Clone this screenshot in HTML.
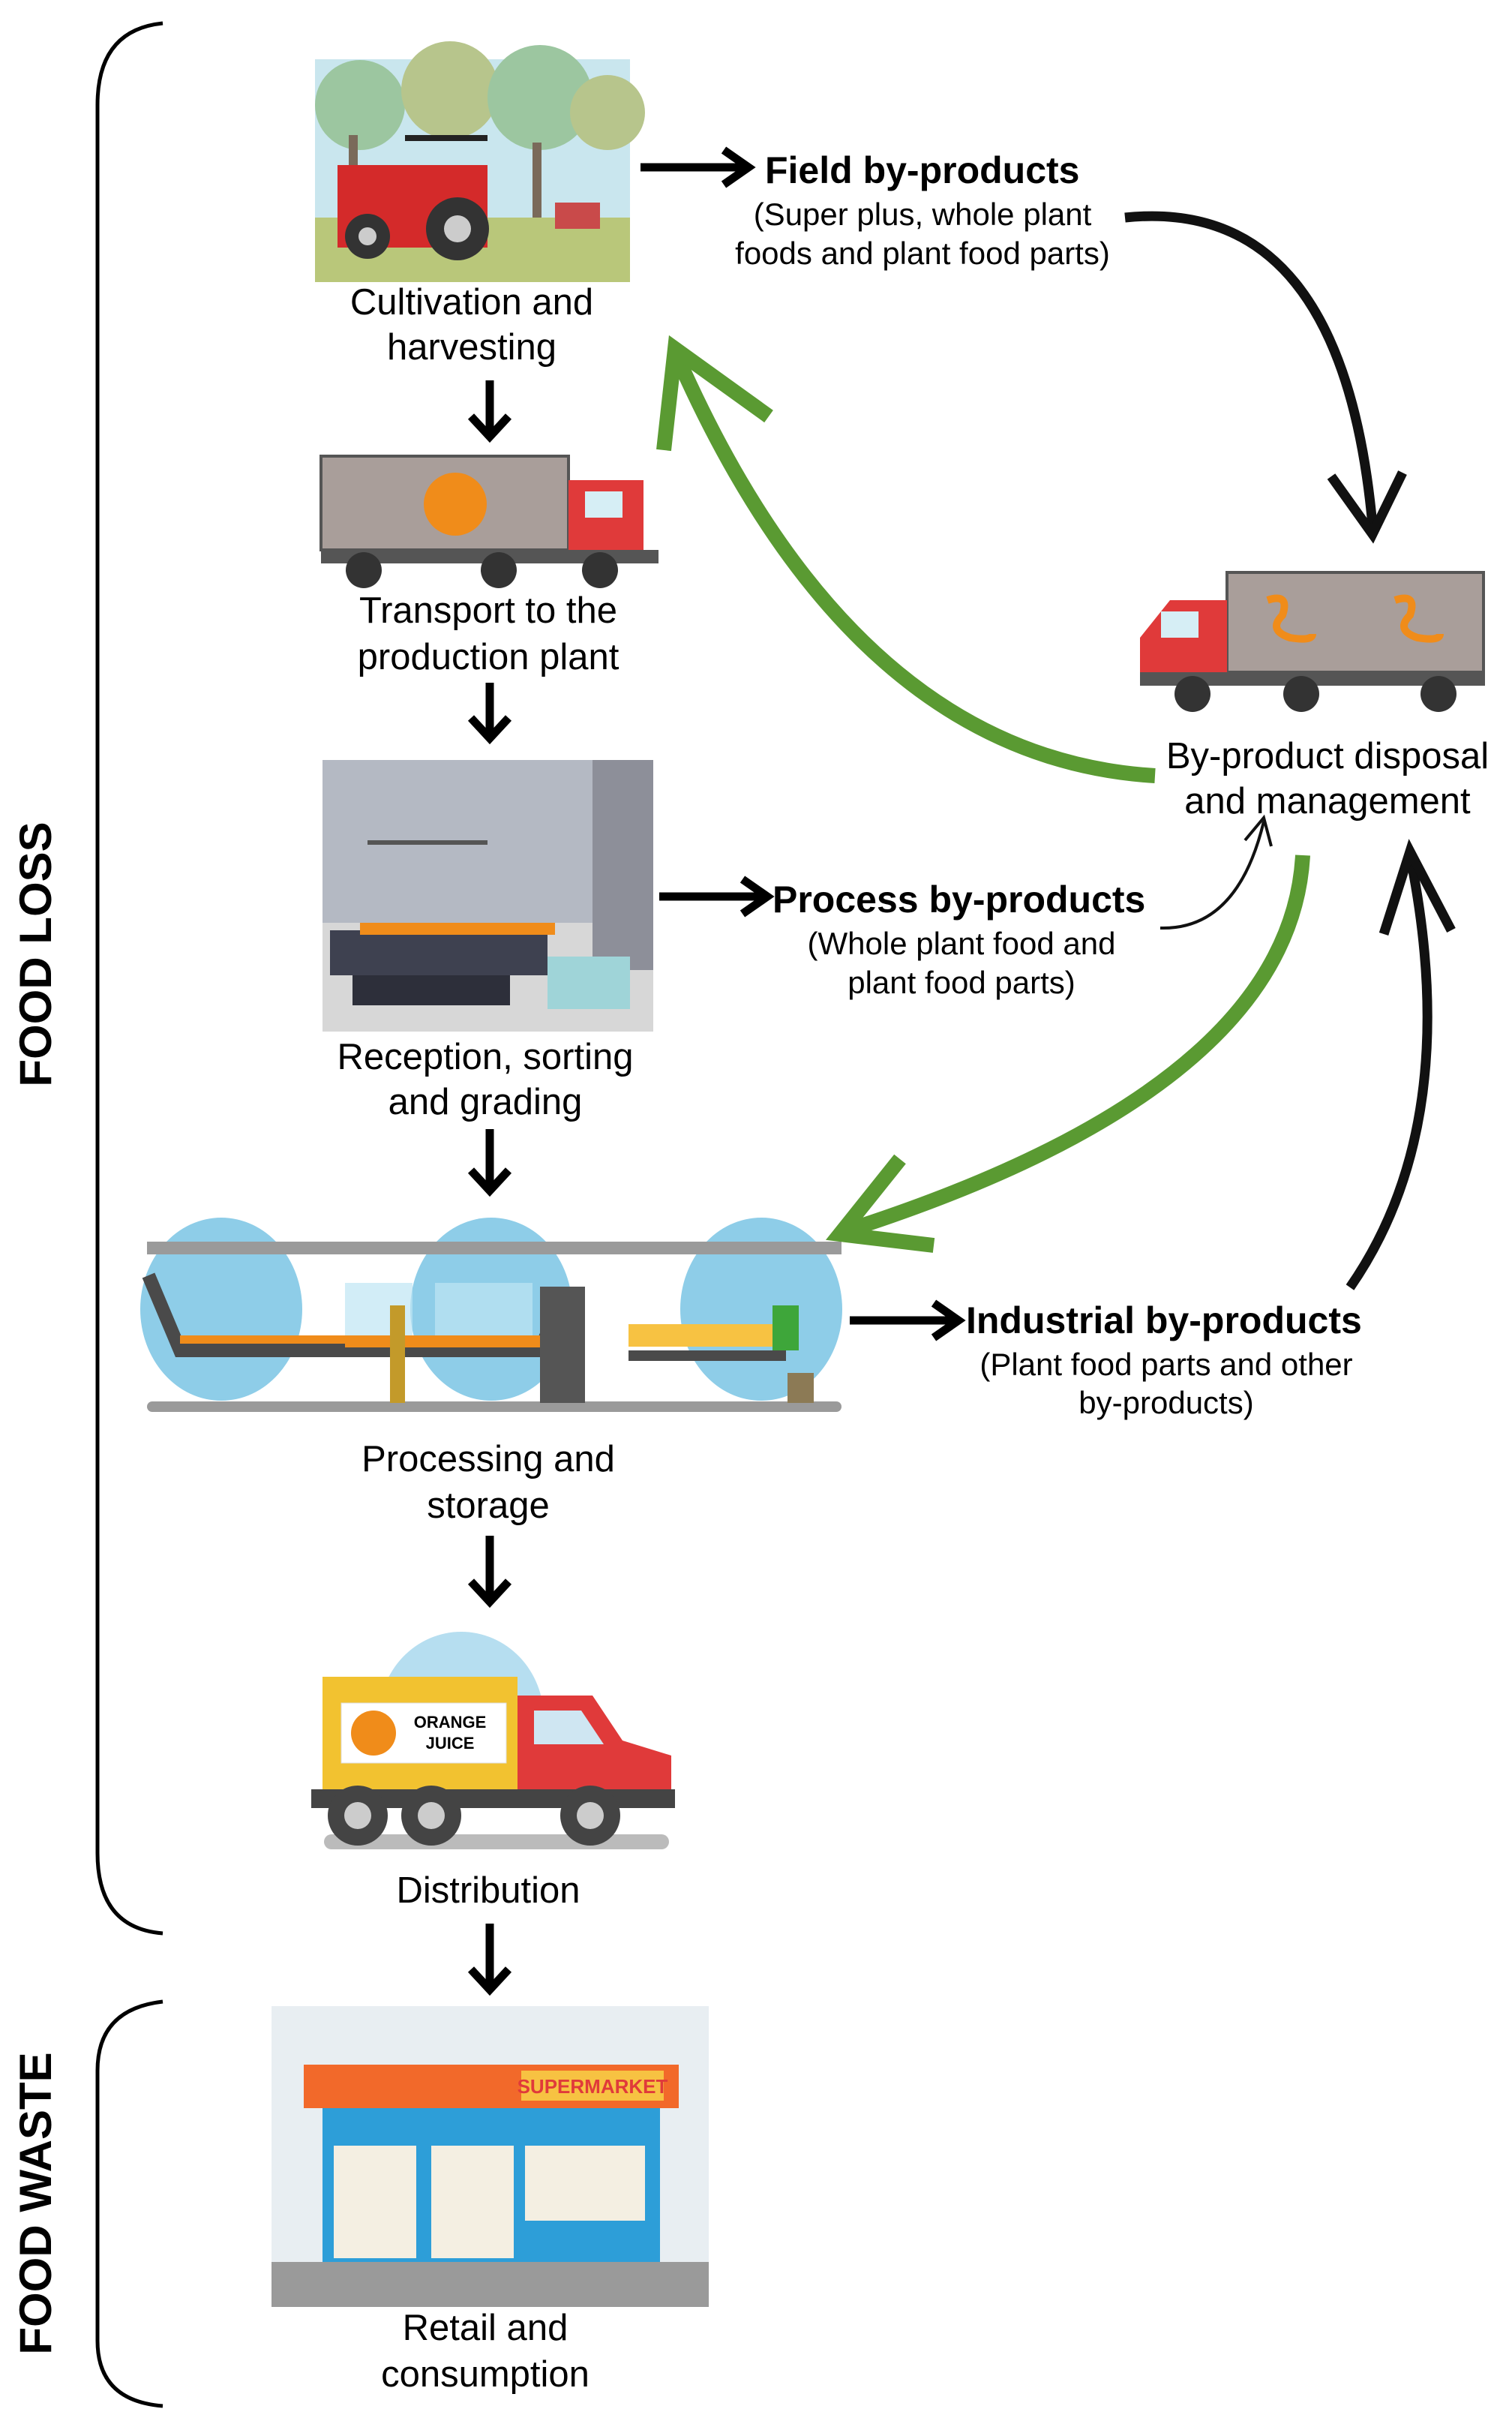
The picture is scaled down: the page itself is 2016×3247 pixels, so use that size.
<!DOCTYPE html>
<html><head><meta charset="utf-8"><style>
html,body{margin:0;padding:0;background:#fff}
svg{display:block}
text{font-family:"Liberation Sans",Arial,sans-serif}
</style></head><body>
<svg width="2016" height="3247" viewBox="0 0 2016 3247" xmlns="http://www.w3.org/2000/svg">

<!-- braces -->
<path d="M217,31 Q130,40 130,140 L130,2470 Q130,2570 217,2577" fill="none" stroke="#000" stroke-width="5"/>
<path d="M217,2668 Q130,2678 130,2760 L130,3120 Q130,3200 217,3207" fill="none" stroke="#000" stroke-width="5"/>
<text x="52" y="1272" transform="rotate(-90 52 1272)" text-anchor="middle" dominant-baseline="middle" font-size="60" font-weight="bold">FOOD LOSS</text>
<text x="52" y="2937" transform="rotate(-90 52 2937)" text-anchor="middle" dominant-baseline="middle" font-size="60" font-weight="bold">FOOD WASTE</text>

<!-- tractor image -->
<rect x="420" y="79" width="420" height="297" fill="#c9e6ee"/>
<rect x="420" y="290" width="420" height="86" fill="#b9c77a"/>
<circle cx="480" cy="140" r="60" fill="#9cc6a0"/><circle cx="600" cy="120" r="65" fill="#b7c58c"/><circle cx="720" cy="130" r="70" fill="#9cc6a0"/><circle cx="810" cy="150" r="50" fill="#b7c58c"/>
<rect x="465" y="180" width="12" height="110" fill="#7a6a5a"/><rect x="710" y="190" width="12" height="100" fill="#7a6a5a"/>
<rect x="740" y="270" width="60" height="35" fill="#c94a4a"/>
<rect x="450" y="220" width="200" height="110" fill="#d42a2a"/><rect x="540" y="180" width="110" height="8" fill="#222"/>
<circle cx="610" cy="305" r="42" fill="#333"/><circle cx="610" cy="305" r="18" fill="#ccc"/>
<circle cx="490" cy="315" r="30" fill="#333"/><circle cx="490" cy="315" r="12" fill="#ccc"/>

<text x="629" y="419" text-anchor="middle" font-size="49">Cultivation and</text>
<text x="629" y="479" text-anchor="middle" font-size="49">harvesting</text>

<!-- down arrows -->
<g stroke="#000" stroke-width="11" fill="none">
<path d="M653,507 V580 M628,555 L653,582 L678,555"/>
<path d="M653,910 V982 M628,957 L653,984 L678,957"/>
<path d="M653,1505 V1585 M628,1560 L653,1587 L678,1560"/>
<path d="M653,2047 V2133 M628,2108 L653,2135 L678,2108"/>
<path d="M653,2564 V2650 M628,2625 L653,2652 L678,2625"/>
</g>

<!-- truck 1 -->
<rect x="428" y="608" width="330" height="125" fill="#a99e9a" stroke="#555" stroke-width="4"/>
<rect x="758" y="640" width="100" height="93" fill="#e03a3a"/>
<rect x="780" y="655" width="50" height="35" fill="#d6eef5"/>
<rect x="428" y="733" width="450" height="18" fill="#555"/>
<circle cx="607" cy="672" r="42" fill="#f08c1a"/>
<circle cx="485" cy="760" r="24" fill="#333"/><circle cx="665" cy="760" r="24" fill="#333"/><circle cx="800" cy="760" r="24" fill="#333"/>
<text x="651" y="830" text-anchor="middle" font-size="49">Transport to the</text>
<text x="651" y="892" text-anchor="middle" font-size="49">production plant</text>

<!-- reception -->
<rect x="430" y="1013" width="441" height="362" fill="#b4b9c3"/>
<rect x="430" y="1230" width="441" height="145" fill="#d7d7d7"/>
<rect x="790" y="1013" width="81" height="280" fill="#8d8f99"/>
<rect x="440" y="1240" width="290" height="60" fill="#3e4150"/>
<rect x="470" y="1300" width="210" height="40" fill="#2d2f3a"/>
<rect x="490" y="1120" width="160" height="6" fill="#555"/>
<rect x="480" y="1230" width="260" height="16" fill="#f08c1a"/>
<rect x="730" y="1275" width="110" height="70" fill="#9fd4d8"/>
<text x="647" y="1425" text-anchor="middle" font-size="49">Reception, sorting</text>
<text x="647" y="1485" text-anchor="middle" font-size="49">and grading</text>

<!-- processing -->
<ellipse cx="295" cy="1745" rx="108" ry="122" fill="#8ecde8"/>
<ellipse cx="655" cy="1745" rx="108" ry="122" fill="#8ecde8"/>
<ellipse cx="1015" cy="1745" rx="108" ry="122" fill="#8ecde8"/>
<rect x="196" y="1655" width="926" height="17" fill="#9a9a9a"/>
<rect x="196" y="1868" width="926" height="14" rx="7" fill="#9a9a9a"/>
<path d="M198,1700 L240,1800 L450,1800" stroke="#4a4a4a" stroke-width="18" fill="none"/>
<rect x="240" y="1780" width="300" height="16" fill="#f08c1a"/>
<path d="M240,1800 L720,1800 L745,1740" stroke="#4a4a4a" stroke-width="18" fill="none"/>
<rect x="460" y="1780" width="270" height="16" fill="#f08c1a"/>
<rect x="460" y="1710" width="90" height="70" fill="#bfe6f4" opacity="0.7"/>
<rect x="580" y="1710" width="130" height="70" fill="#bfe6f4" opacity="0.7"/>
<rect x="720" y="1715" width="60" height="155" fill="#555"/>
<rect x="520" y="1740" width="20" height="130" fill="#c39a2a"/>
<rect x="838" y="1800" width="210" height="14" fill="#4a4a4a"/>
<rect x="838" y="1765" width="200" height="30" fill="#f7c242"/>
<rect x="1030" y="1740" width="35" height="60" fill="#3ea63a"/>
<rect x="1050" y="1830" width="35" height="40" fill="#8c7a55"/>
<text x="651" y="1961" text-anchor="middle" font-size="49">Processing and</text>
<text x="651" y="2023" text-anchor="middle" font-size="49">storage</text>

<!-- distribution -->
<ellipse cx="615" cy="2290" rx="110" ry="115" fill="#b6def0"/>
<rect x="430" y="2235" width="260" height="150" fill="#f2c230"/>
<rect x="455" y="2270" width="220" height="80" fill="#fff" stroke="#ddd"/>
<circle cx="498" cy="2310" r="30" fill="#f08c1a"/>
<text x="600" y="2303" text-anchor="middle" font-size="22" font-weight="bold">ORANGE</text>
<text x="600" y="2331" text-anchor="middle" font-size="22" font-weight="bold">JUICE</text>
<path d="M690,2260 L790,2260 L830,2320 L895,2340 L895,2405 L690,2405 z" fill="#e03a3a"/>
<path d="M712,2280 L775,2280 L805,2325 L712,2325 z" fill="#cfe6f2"/>
<rect x="415" y="2385" width="485" height="25" fill="#444"/>
<rect x="432" y="2445" width="460" height="20" rx="10" fill="#bbb"/>
<circle cx="477" cy="2420" r="40" fill="#444"/><circle cx="477" cy="2420" r="18" fill="#ccc"/>
<circle cx="575" cy="2420" r="40" fill="#444"/><circle cx="575" cy="2420" r="18" fill="#ccc"/>
<circle cx="787" cy="2420" r="40" fill="#444"/><circle cx="787" cy="2420" r="18" fill="#ccc"/>
<text x="651" y="2536" text-anchor="middle" font-size="49">Distribution</text>

<!-- supermarket -->
<rect x="362" y="2674" width="583" height="401" fill="#e8eef2"/>
<rect x="405" y="2752" width="500" height="58" fill="#f2692a"/>
<rect x="695" y="2760" width="190" height="40" fill="#f7c242"/>
<text x="790" y="2790" text-anchor="middle" font-size="26" fill="#e03a3a" font-weight="bold">SUPERMARKET</text>
<rect x="430" y="2810" width="450" height="205" fill="#2d9ed8"/>
<rect x="445" y="2860" width="110" height="150" fill="#f4efe2"/><rect x="575" y="2860" width="110" height="150" fill="#f4efe2"/><rect x="700" y="2860" width="160" height="100" fill="#f4efe2"/>
<rect x="362" y="3015" width="583" height="60" fill="#9a9a9a"/>
<text x="647" y="3119" text-anchor="middle" font-size="49">Retail and</text>
<text x="647" y="3181" text-anchor="middle" font-size="49">consumption</text>

<!-- right truck -->
<rect x="1636" y="763" width="342" height="133" fill="#a99e9a" stroke="#555" stroke-width="4"/>
<path d="M1636,800 L1560,800 L1520,850 L1520,910 L1636,910 z" fill="#e03a3a"/>
<rect x="1548" y="815" width="50" height="35" fill="#d6eef5"/>
<rect x="1520" y="896" width="460" height="18" fill="#555"/>
<path d="M1690,800 q30,-10 20,20 q-20,20 10,30 q30,5 30,-5" stroke="#f08c1a" stroke-width="10" fill="none"/>
<path d="M1860,800 q30,-10 20,20 q-20,20 10,30 q30,5 30,-5" stroke="#f08c1a" stroke-width="10" fill="none"/>
<circle cx="1590" cy="925" r="24" fill="#333"/><circle cx="1735" cy="925" r="24" fill="#333"/><circle cx="1918" cy="925" r="24" fill="#333"/>
<text x="1770" y="1024" text-anchor="middle" font-size="49">By-product disposal</text>
<text x="1770" y="1084" text-anchor="middle" font-size="49">and management</text>

<!-- right arrows -->
<g stroke="#000" stroke-width="11" fill="none">
<path d="M854,223 H990 M965,200 L998,223 L965,246"/>
<path d="M879,1195 H1015 M990,1172 L1023,1195 L990,1218"/>
<path d="M1133,1760 H1270 M1245,1737 L1278,1760 L1245,1783"/>
</g>
<text x="1020" y="244" font-size="50" font-weight="bold">Field by-products</text>
<text x="1230" y="300" text-anchor="middle" font-size="42">(Super plus, whole plant</text>
<text x="1230" y="352" text-anchor="middle" font-size="42">foods and plant food parts)</text>
<text x="1030" y="1216" font-size="50" font-weight="bold">Process by-products</text>
<text x="1282" y="1272" text-anchor="middle" font-size="42">(Whole plant food and</text>
<text x="1282" y="1324" text-anchor="middle" font-size="42">plant food parts)</text>
<text x="1288" y="1777" font-size="50" font-weight="bold">Industrial by-products</text>
<text x="1555" y="1833" text-anchor="middle" font-size="42">(Plant food parts and other</text>
<text x="1555" y="1884" text-anchor="middle" font-size="42">by-products)</text>

<!-- curved black arrows -->
<path d="M1500,290 Q1790,260 1830,700" stroke="#111" stroke-width="13" fill="none"/>
<path d="M1775,635 L1830,712 L1870,630" stroke="#111" stroke-width="13" fill="none"/>
<path d="M1800,1716 Q1950,1500 1882,1150" stroke="#111" stroke-width="13" fill="none"/>
<path d="M1845,1245 L1880,1135 L1935,1240" stroke="#111" stroke-width="13" fill="none"/>
<path d="M1547,1237 Q1650,1240 1685,1095" stroke="#111" stroke-width="4" fill="none"/>
<path d="M1660,1120 L1685,1090 L1695,1128" stroke="#111" stroke-width="4" fill="none"/>

<!-- green arrows -->
<path d="M1540,1034 Q1140,1010 905,480" stroke="#5a9a32" stroke-width="20" fill="none"/>
<path d="M885,600 L900,465 L1025,555" stroke="#5a9a32" stroke-width="20" fill="none"/>
<path d="M1737,1140 Q1720,1450 1130,1640" stroke="#5a9a32" stroke-width="20" fill="none"/>
<path d="M1200,1545 L1120,1645 L1245,1660" stroke="#5a9a32" stroke-width="20" fill="none"/>
</svg>
</body></html>
